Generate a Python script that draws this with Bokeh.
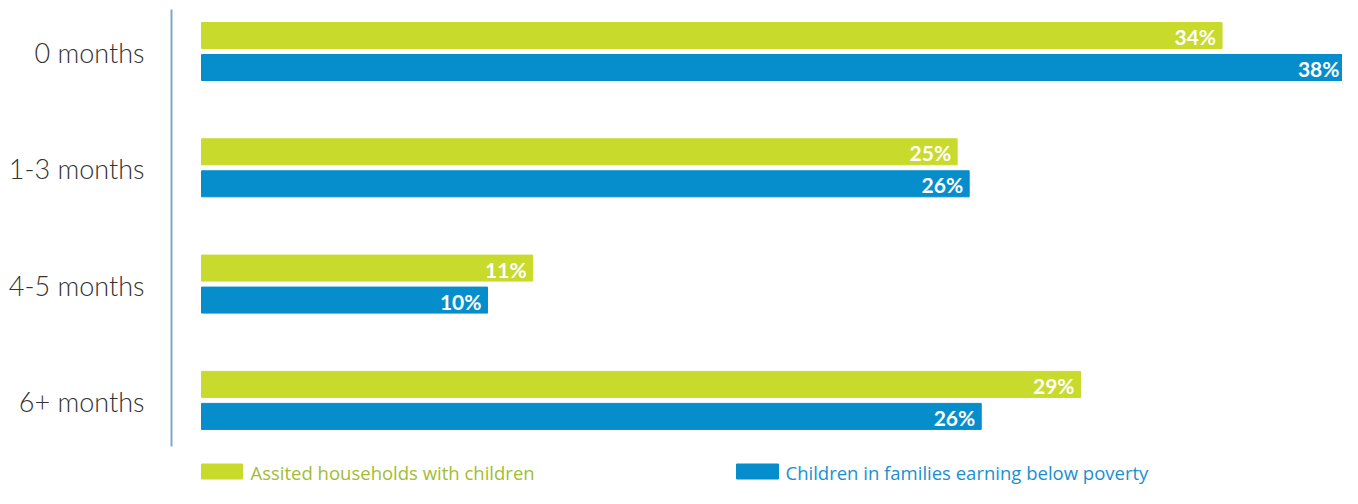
from bokeh.plotting import figure
from bokeh.models import Range1d, ColumnDataSource
from bokeh.core.properties import value
from bokeh.embed import file_html
from bokeh.resources import INLINE

# ---- data ----
categories = ["0 months", "1-3 months", "4-5 months", "6+ months"]
assisted = [33.9, 25.1, 11.0, 29.2]
poverty = [38.0, 25.5, 9.5, 25.9]
assisted_labels = ["34%", "25%", "11%", "29%"]
poverty_labels = ["38%", "26%", "10%", "26%"]
series_names = ["Assited households with children", "Children in families earning below poverty"]

GREEN = "#c8da2b"
BLUE = "#058dcc"
GREEN_TXT = "#a2bc33"
BLUE_TXT = "#1a8fd0"

# ---- layout constants (pixels) ----
W, H = 1342, 488
px_per_unit = 30.105
zero_px = 201          # figure x of value 0
group_px = 116.3       # spacing between groups
first_px = 51          # figure y of first group center
bar_h_px = 26
off_px = 16

x0 = -zero_px / px_per_unit
x1 = (W - zero_px) / px_per_unit
y_top = -first_px / group_px
y_bot = (H - first_px) / group_px

def px_x(px):
    return (px - zero_px) / px_per_unit

def px_y(py):
    return (py - first_px) / group_px

p = figure(width=W, height=H, output_backend="svg", toolbar_location=None,
           x_range=Range1d(x0, x1), y_range=Range1d(y_bot, y_top),
           min_border=0, outline_line_color=None)
p.axis.visible = False
p.grid.visible = False
p.background_fill_color = "white"
p.border_fill_color = "white"

idx = list(range(len(categories)))
bh = bar_h_px / group_px
off = off_px / group_px

src = ColumnDataSource(dict(
    idx=idx, cat=categories,
    ya=[i - off for i in idx], yp=[i + off for i in idx],
    a=assisted, pv=poverty, al=assisted_labels, pl=poverty_labels,
))

p.hbar(y="ya", right="a", left=0, height=bh, color=GREEN, source=src)
p.hbar(y="yp", right="pv", left=0, height=bh, color=BLUE, source=src)

for xcol, ycol, tcol in (("a", "ya", "al"), ("pv", "yp", "pl")):
    p.text(x=xcol, y=ycol, text=tcol, source=src, text_align="right", text_baseline="middle",
           x_offset=-6, y_offset=1, text_color="white", text_font=value("Lato"),
           text_font_style="bold", text_font_size="21px")

# vertical axis line
axis_x = px_x(171)
p.segment(x0=[axis_x], x1=[axis_x], y0=[px_y(9)], y1=[px_y(446)],
          line_color="#7ea9c6", line_width=2)

# category labels
p.text(x=[axis_x] * len(categories), y=idx, text=categories, text_align="right",
       text_baseline="middle", x_offset=-27, y_offset=1, text_color="#333333",
       text_font=value("Lato Light, Lato"), text_font_size="27px")

# legend
leg_y = px_y(471)
leg_h = 15 / group_px
p.rect(x=[px_x(221.5)], y=[leg_y], width=41 / px_per_unit, height=leg_h, color=GREEN)
p.rect(x=[px_x(757)], y=[leg_y], width=42 / px_per_unit, height=leg_h, color=BLUE)
p.text(x=[px_x(250)], y=[leg_y], text=[series_names[0]], text_baseline="middle",
       text_color=GREEN_TXT, text_font=value("Open Sans"), text_font_size="18.5px", y_offset=1)
p.text(x=[px_x(785)], y=[leg_y], text=[series_names[1]], text_baseline="middle",
       text_color=BLUE_TXT, text_font=value("Open Sans"), text_font_size="18.5px", y_offset=1)

open("out.html", "w").write(file_html(p, INLINE))
